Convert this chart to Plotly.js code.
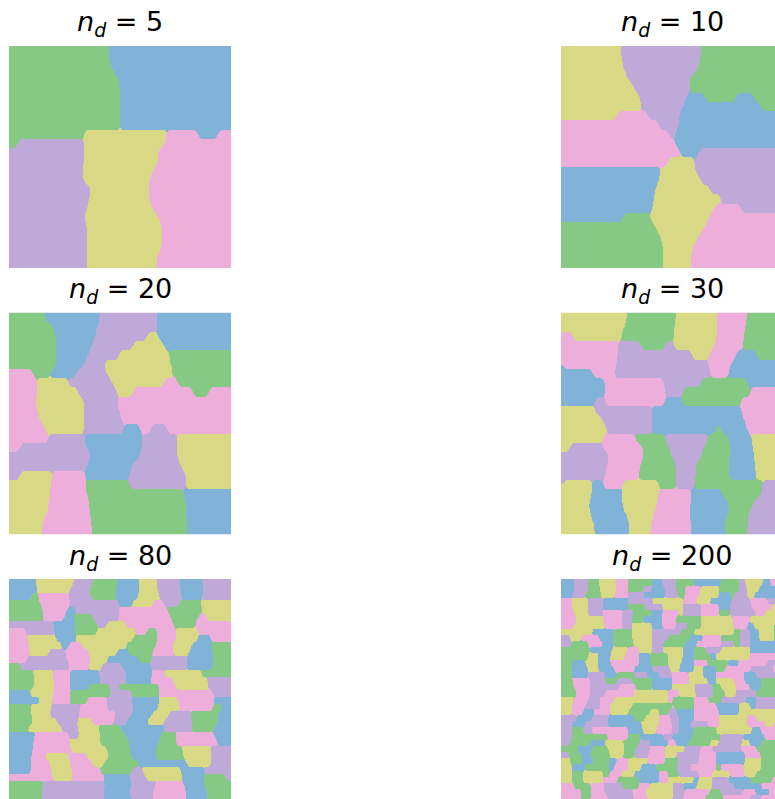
<!DOCTYPE html>
<html><head><meta charset="utf-8">
<script src="https://cdn.plot.ly/plotly-3.0.1.min.js"></script>
<style>html,body{margin:0;padding:0;background:#fff;overflow:hidden}#p{width:790px;height:810px}</style>
</head><body><div id="p"></div>
<script>
// Each row lists region label + the % of the width where that region ends.
const clusterLabels = ["G","B","U","Y","K"];
const clusterColors = ["#85c985","#80b3d7","#bfa9d9","#d9d985","#eeaedb"];
const panelCounts = [5,10,20,30,80,200];

const rows5 = [
"G45 B100","G45 B100","G47 B100","G49 B100","G50 B100","G50 B100","G50 B100","G50 B100","G50 B100",
"G34 Y71 K85 B94 K100","G4 U34 Y70 K100","U34 Y67 K100","U34 Y67 K100","U33 Y65 K100","U34 Y63 K100","U37 Y63 K100",
"U36 Y63 K100","U35 Y65 K100","U34 Y67 K100","U35 Y69 K100","U35 Y69 K100","U35 Y69 K100","U35 Y67 K100","U35 Y66 K100"];

const rows10 = [
"Y27 U63 G100","Y27.5 U62.6 G100","Y28.5 U61.4 G100","Y30 U58 G100","Y33 U58 G100","Y35.5 U56.5 B65 G79 B87 G100",
"Y36 U55 B90 G100","Y25 K39 U53 B100","K44 U53 B100","K48.5 U51.5 B100","K51.5 B100","K54 B62 U100","K48 Y60 U100",
"B44.5 Y60.6 U100","B44 Y63 U100","B42.5 Y67 U100","B42 Y72 U100","B41 Y69 K81 U100","B28 G40 Y66.6 K100",
"G42.5 Y64.7 K100","G44.5 Y62 K100","G46 Y60 K100","G46 Y58.6 K100","G46 Y58.6 K100"];

const rows20 = [
"G16 B41 U66.5 B100","G20 B39.5 U66.5 B100","G21 B38.7 U62 Y67 B100","G21 B37.4 U56 Y70 B100","G21 B35.5 U49.5 Y72 G100",
"G21 B33.6 U42.7 Y73 G100","K11 G18.5 B30 U44.3 Y74 G100","K12.5 Y26.8 U46.5 Y70 K76 G100","K12.5 Y31 U48.7 Y56 K83 G90 K100",
"K12 Y33.6 U48.7 K100","K12.5 Y33.6 U49.5 K100","K14 Y33.6 U51 K100","K16 Y34 U52 B59 K64 U71 K100",
"K18 U33.6 B60 U75.5 Y100","K5 U35 B60 U75.5 Y100","U37 B58.5 U75.5 Y100","U35 B55.5 U77.4 Y100",
"U5 Y19.3 K34.4 B54 U79.6 Y100","Y19 K34.4 G54 U79.6 Y100","Y18.5 K35 G78.5 B100","Y17.8 K36 G79.6 B100",
"Y17 K36.6 G79.6 B100","Y15.5 K37 G80 B100","Y15 K37.4 G80 B100"];

const rows30 = [
"Y29.7 G51.6 Y70.4 K83.7 G100","Y28.5 G50.8 Y70.4 K83 G100","K5.6 Y27 G50.8 Y70.4 K82.5 G100","K26 U36 G47 U51 Y69 K82 G100",
"K25 U59 Y66.7 K78.7 B88.5 G100","B1 K25 U66 K76.5 B100","B14.6 K24 U67.4 K75 B100","B20 K46.3 U63 G84 B100",
"B20 K47 U55 G85.5 K100","B15.4 U20 K47 B54.6 G81 K100","Y15.4 U41 B81 K100","Y18.4 U41 B82.5 K100",
"Y20.6 U41 B69.7 G72 B84 K100","Y19 K33.5 G47 U66 G75 B85.5 Y100","Y4 U19 K36.5 G48.6 U64.4 G76.5 B86.3 Y100",
"U21.4 K37.3 G50 U63 G75.7 B87 Y100","U20.7 K35.7 G52 U60.6 G75.7 B87.3 Y100","U20 K35 G51.6 U60.6 G75.7 B87.8 Y100",
"U1 Y14 B19 K28 Y44 G52 U60 G90.8 U100","Y14 B27.5 Y44 K58.4 B72.7 G90 U100","Y12.4 B27.5 Y43.3 K58.4 B75 G87 U100",
"Y13 B29 Y41.8 K57.6 B75.7 G84.8 U100","Y14.6 B30.5 Y41 K58.4 B73.5 G84.3 U100","Y15.4 B30.8 Y40.3 K58.4 B74.2 G84 U100"];

const rows80 = [
"B12 Y29.4 U38 G48.7 B58.5 Y66.5 U77 B87 U100","B12.5 Y27.6 U36 G48 B58.5 Y66.5 U77 B87.8 U100",
"B10 G13 K27 U37 G48 B58 Y68 U78 B87 U100","G14 K27.6 U38 U49.5 B55.5 Y65 K69.8 U77 G86.4 Y100",
"G15.5 K26 B30 U49.5 K71.3 G87 Y100","G15.5 K24.6 B29 G38 U49.5 K73 G85 K89 Y100",
"U20 B30 G39.7 U44 Y52.5 K74 G84 K100","K7.7 U20.8 B29.4 G39.7 Y57 K62 G66.5 K75 Y85 K100",
"K8 Y21 B30 Y56 G66.5 K75 Y85 B91 K100","K9 Y24 B27 K33 Y52.5 G66 K73.4 Y82.6 B91 G100",
"K9 Y18 U25.3 K36 Y48.7 B54 G64.5 K74.4 Y81 B91.7 G100","K8 U26 K36.4 Y44 B58.5 G64 U80.4 B91.7 G100",
"G5 U27.6 K36 Y42 U51 B64 U80.4 B91.7 G100","G11 Y20 K27.6 B40.4 U52.5 B64.5 K70 Y86.4 G100",
"G11.8 Y20 K27.6 B41 U52.5 B64 K74 Y89.4 U100","G11 Y20.8 K27.6 B36 G45.7 U48.7 G67.6 K75 Y90 U100",
"B9.5 Y20 K27.6 G46 U55.5 G67.6 K92 U100","B14 Y19.4 K27.6 G35 K44 U55.5 B67.6 Y76 K92.5 B100",
"G10 Y19 U32 K44 U56 B67 Y77 K91.7 G96 B100","G10 Y18.5 U31.4 K48 U55.5 B64.5 Y72 U82 G94 B100",
"G11 Y21.6 U30.6 Y37.4 K47 U53 B62 Y70 U82.6 G94 B100","G8.7 Y24 U31 Y40.4 G50 B70 U82.6 G92.5 B100",
"B11.8 K27 U31.4 Y41 G52.5 B68.3 G75 K92.5 B100","B11 K27 Y41 G54 B67 G75 K94 B100",
"B11 K28 Y44 G54.7 B66 G78 Y91 U100","B10 K16 Y27 K35 Y45 G55.5 B66 G79 Y91 U100",
"B10 K18.5 Y27.6 K37.4 Y42.7 G58.5 B80 Y91 U100","B10 K19 Y28.4 K41 G55.5 U60 Y77.4 B88 U100",
"K11 K20 Y28.4 K42.7 B54.7 U61.5 Y78 B88 G97.7 U100","G15.5 U43.4 B55 U66 K79 B88 G100",
"G15 U43 B54.7 U65 K79.6 B89.4 G100","G15 U43 B55 U65 K79.6 B89.4 G100"];

const rows200 = [
"B6 U12 G17 Y24.4 K30 G41 B45.5 U51.6 G60 B72 G80 U83 Y91 B94 K100",
"B6 U12 G17.4 Y25 K30 G37 U41 B47 U52 G56 K63 Y71 G80 U84 Y89 B97 K100",
"B5 U11 G18 Y24 K30 U37 B47 U52.5 G56 K62 Y71 B76 G78 U84 Y87 B97 U100",
"K5 Y12 U19 B30 U41 Y55 K61 Y67 B77 U85 K93 U100",
"K5 Y12 U19 B30 G38 U46 Y55 U63 K71 B76 U86 K95 Y100",
"K6 Y12 U19 K28 U33 G41 B46 K53 Y55 U63 K71 G76 U88 K92 Y100",
"K7 Y19 K27 U32 G37 B45 K52 G63 Y77 K85 Y98 G100",
"K6 Y20 K28 U32 Y41 B46 K52 U57 G63 Y78 K84 B87 Y96 G100",
"Y14 B24 G32 Y41 U54 G60 Y78 G81 U85 B89 Y96 G100",
"U4 Y9 K17 B23 G32 Y41 U48 G58 B64 K72 G80 U85 B89 Y96 G100",
"U5 G12 K19 B24 G33 Y41 U46 G56 B61 K72 U78 G81 U85 B100",
"G13 B23 Y30 K35 Y41 U46 Y55 B60 G65 U72 Y85 B100",
"G12 Y17 B22 Y29 K35 B40 G48 Y55 B60 G67 B70 Y85 K100",
"G5 B11 Y16 B22 K35 B40 G48 Y54 B60 K66 G75 B80 K93 U100",
"G5 B12 Y17 B24 K33 B41 U49 Y53 B60 Y64 B70 G74 K85 U95 K100",
"G5 B12 U20 B25 G33 U39 B44 U50 K57 Y64 B70 K82 B88 U100",
"G5 K13 U20 G25 U32 G41 B50 K58 Y66 B70 Y78 K83 B90 G100",
"G6 K13 U26 K34 G41 B50 Y60 U68 G72 Y79 K85 B90 G100",
"G7 K13 U20 K33 Y48 K53 Y61 U69 G74 Y79 U88 G100",
"Y6 K12 U17 K24 Y48 K50 G60 K66 G72 U83 B88 U97 G100",
"Y5 K11 U18 K22 Y32 G50 K51 G60 K70 B80 Y85 B88 U97 G100",
"Y5 K10 B15 K22 Y30 G40 Y44 G48 U52 B60 K71 B80 Y100",
"U7 B14 U21 B33 G38 Y44 K49 U53 B60 K71 Y84 K88 Y100",
"U5 B11 U21 B36 Y44 K50 U53 B58 U66 K71 Y84 K92 Y96 K100",
"U5 G10 U14 K30 B37 Y43 K50 U53 B60 G70 Y86 B90 K100",
"U5 G21 K30 G36 B46 U50 B59 G72 U82 B92 K100",
"U4 G13 B20 Y28 G35 U40 B48 K52 B57 G67 Y71 U81 Y85 B90 G100",
"G7 B14 G21 Y29 G34 U40 K47 Y56 U63 K68 U81 K88 G100",
"U4 G9 B13 G22 Y28 G33 U39 K47 Y52 U62 K70 B83 K90 G100",
"Y4 G10 B15 G22 B25 K30 Y39 K47 G53 U62 K70 B83 Y90 G100",
"Y5 B11 G21 B24 K30 Y36 B43 G52 U58 K70 G72 K82 Y90 G100",
"Y5 G10 Y19 G22 K27 Y33 B44 K48 G53 U62 K68 Y76 K83 Y88 G100",
"Y5 G10 Y19 K25 G35 B44 K48 Y60 B62 Y68 U75 B85 G95 K100",
"K6 G13 K19 U28 G35 K40 Y50 U55 B61 Y68 U78 B90 K100",
"K9 G14 K20 U32 K38 Y51 U56 K67 G72 U82 K88 B94 K100",
"K9 G13 K21 U33 K39 Y50 U55 K65 G73 K85 U90 K100"];

const panelRows = [rows5,rows10,rows20,rows30,rows80,rows200];

const W = 790, H = 810, SIDE = 222;
const lefts = [9,561], tops = [46,312.5,579];
const RES = 222; // one cell per screen pixel

function expand(rows){
  // rows -> fine label grid
  const rowH = RES/rows.length;
  const parsed = rows.map(r=>{
    const out = new Int8Array(RES);
    let start = 0;
    r.split(" ").forEach(tok=>{
      const v = clusterLabels.indexOf(tok[0]);
      const end = Math.round(parseFloat(tok.slice(1))/100*RES);
      for(let i=start;i<end;i++) out[i]=v;
      start = Math.max(start,end);
    });
    return out;
  });
  const fine = [];
  for(let j=0;j<RES;j++) fine.push(parsed[Math.min(rows.length-1,Math.floor(j/rowH))]);
  // rounded region outlines: each cell takes the majority label of an elliptical neighbourhood
  const ry = Math.max(2,Math.round(rowH*0.75)), rx = Math.max(2,Math.round(rowH*0.4));
  const z = [];
  const count = new Int32Array(clusterLabels.length);
  for(let j=0;j<RES;j++){
    const line = new Array(RES);
    for(let i=0;i<RES;i++){
      count.fill(0);
      for(let dj=-ry;dj<=ry;dj++){
        const jj=j+dj; if(jj<0||jj>=RES) continue;
        const span = Math.floor(rx*Math.sqrt(1-(dj*dj)/((ry+.5)*(ry+.5))));
        for(let di=-span;di<=span;di++){
          const ii=i+di; if(ii<0||ii>=RES) continue;
          count[fine[jj][ii]]++;
        }
      }
      let best=0; for(let c=1;c<count.length;c++) if(count[c]>count[best]) best=c;
      line[i]=best;
    }
    z.push(line);
  }
  return z;
}
const colorscale = clusterColors.map((c,i)=>[i/(clusterColors.length-1),c]);
const data=[], layout={
  width:W,height:H,margin:{l:0,r:0,t:0,b:0},paper_bgcolor:"#fff",plot_bgcolor:"#fff",showlegend:false,annotations:[]
};
panelCounts.forEach((n,i)=>{
  const suf = i===0?"":String(i+1);
  const col = i%2, row = Math.floor(i/2);
  data.push({type:"heatmap",z:expand(panelRows[i]),x0:100/RES/2,dx:100/RES,y0:100/RES/2,dy:100/RES,
    xaxis:"x"+suf,yaxis:"y"+suf,zmin:0,zmax:4,colorscale,showscale:false,zsmooth:false,hoverinfo:"skip"});
  layout["xaxis"+suf]={domain:[lefts[col]/W,(lefts[col]+SIDE)/W],range:[0,100],visible:false,fixedrange:true};
  layout["yaxis"+suf]={domain:[1-(tops[row]+SIDE)/H,1-tops[row]/H],range:[100,0],visible:false,fixedrange:true};
  layout.annotations.push({xref:"paper",yref:"paper",x:(lefts[col]+SIDE/2)/W,y:1-(tops[row]-2.5)/H,
    xanchor:"center",yanchor:"bottom",showarrow:false,
    text:"<i>n</i><sub><i>d</i></sub> = "+n,
    font:{family:"DejaVu Sans",size:27,color:"#000"}});
});
Plotly.newPlot("p",data,layout,{displayModeBar:false,staticPlot:true});
</script>
</body></html>
